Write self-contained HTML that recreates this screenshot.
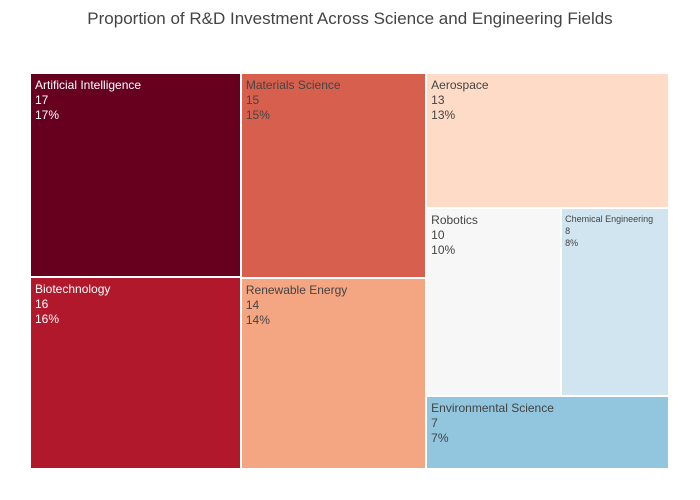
<!DOCTYPE html>
<html><head><meta charset="utf-8"><style>
body{margin:0;background:#fff;font-family:"Liberation Sans",Arial,sans-serif;}
#wrap{position:relative;width:700px;height:500px;overflow:hidden;}
.t{position:absolute;left:0;width:700px;top:9px;text-align:center;font-size:17px;color:#444;}
.cell{position:absolute;box-sizing:border-box;}
.lbl{position:absolute;left:4px;top:4px;font-size:12px;line-height:15px;white-space:nowrap;}
</style></head><body>
<div id="wrap">
<div class="t">Proportion of R&amp;D Investment Across Science and Engineering Fields</div>
</div>
<script>
const categories=["Artificial Intelligence","Biotechnology","Materials Science","Renewable Energy","Aerospace","Robotics","Chemical Engineering","Environmental Science"];
const values=[17,16,15,14,13,10,8,7];
const colors=["#67001f","#b2182b","#d6604d","#f4a582","#fddbc7","#f7f7f7","#d1e5f0","#92c5de"];
const textColors=["#fff","#fff","#444","#444","#444","#444","#444","#444"];

const X0=30,Y0=73,X1=669,Y1=469;
const total=values.reduce((a,b)=>a+b,0);
const nodes=categories.map((c,i)=>({name:c,value:values[i],i:i})).sort((a,b)=>b.value-a.value);
function dice(ch,x0,y0,x1,y1,sum){let x=x0;ch.forEach(n=>{n.y0=y0;n.y1=y1;n.x0=x;x+=(x1-x0)*n.value/sum;n.x1=x;});}
function slice(ch,x0,y0,x1,y1,sum){let y=y0;ch.forEach(n=>{n.x0=x0;n.x1=x1;n.y0=y;y+=(y1-y0)*n.value/sum;n.y1=y;});}
(function squarify(){
 const ratio=1;let x0=X0,y0=Y0,x1=X1,y1=Y1,value=total,i0=0,i1=0,n=nodes.length;
 while(i0<n){
  const dx=x1-x0,dy=y1-y0;let sum=nodes[i1++].value,mn=sum,mx=sum;
  const alpha=Math.max(dy/dx,dx/dy)/(value*ratio);let beta=sum*sum*alpha;let minR=Math.max(mx/beta,beta/mn);
  for(;i1<n;++i1){const v=nodes[i1].value;sum+=v;if(v<mn)mn=v;if(v>mx)mx=v;beta=sum*sum*alpha;const r=Math.max(mx/beta,beta/mn);if(r>minR){sum-=v;break;}minR=r;}
  const row=nodes.slice(i0,i1);
  if(dx<dy){const ny=y0+dy*sum/value;dice(row,x0,y0,x1,ny,sum);y0=ny;}
  else{const nx=x0+dx*sum/value;slice(row,x0,y0,nx,y1,sum);x0=nx;}
  value-=sum;i0=i1;
 }
})();
const wrap=document.getElementById('wrap');
nodes.forEach(nd=>{
 const d=document.createElement('div');d.className='cell';
 
 
 d.style.left=(nd.x0+1)+'px';d.style.top=(nd.y0+1)+'px';
 d.style.width=(nd.x1-nd.x0-2)+'px';d.style.height=(nd.y1-nd.y0-2)+'px';
 d.style.background=colors[nd.i];
 const l=document.createElement('div');l.className='lbl';
 
 
 l.style.color=textColors[nd.i];
 const pct=Math.round(nd.value/total*100)+'%';
 l.innerHTML=nd.name+'<br>'+nd.value+'<br>'+pct;
 if((nd.x1-nd.x0)<130){l.style.fontSize='9px';l.style.lineHeight='12px';l.style.left='3px';}
 d.appendChild(l);wrap.appendChild(d);
});
</script>
</body></html>
